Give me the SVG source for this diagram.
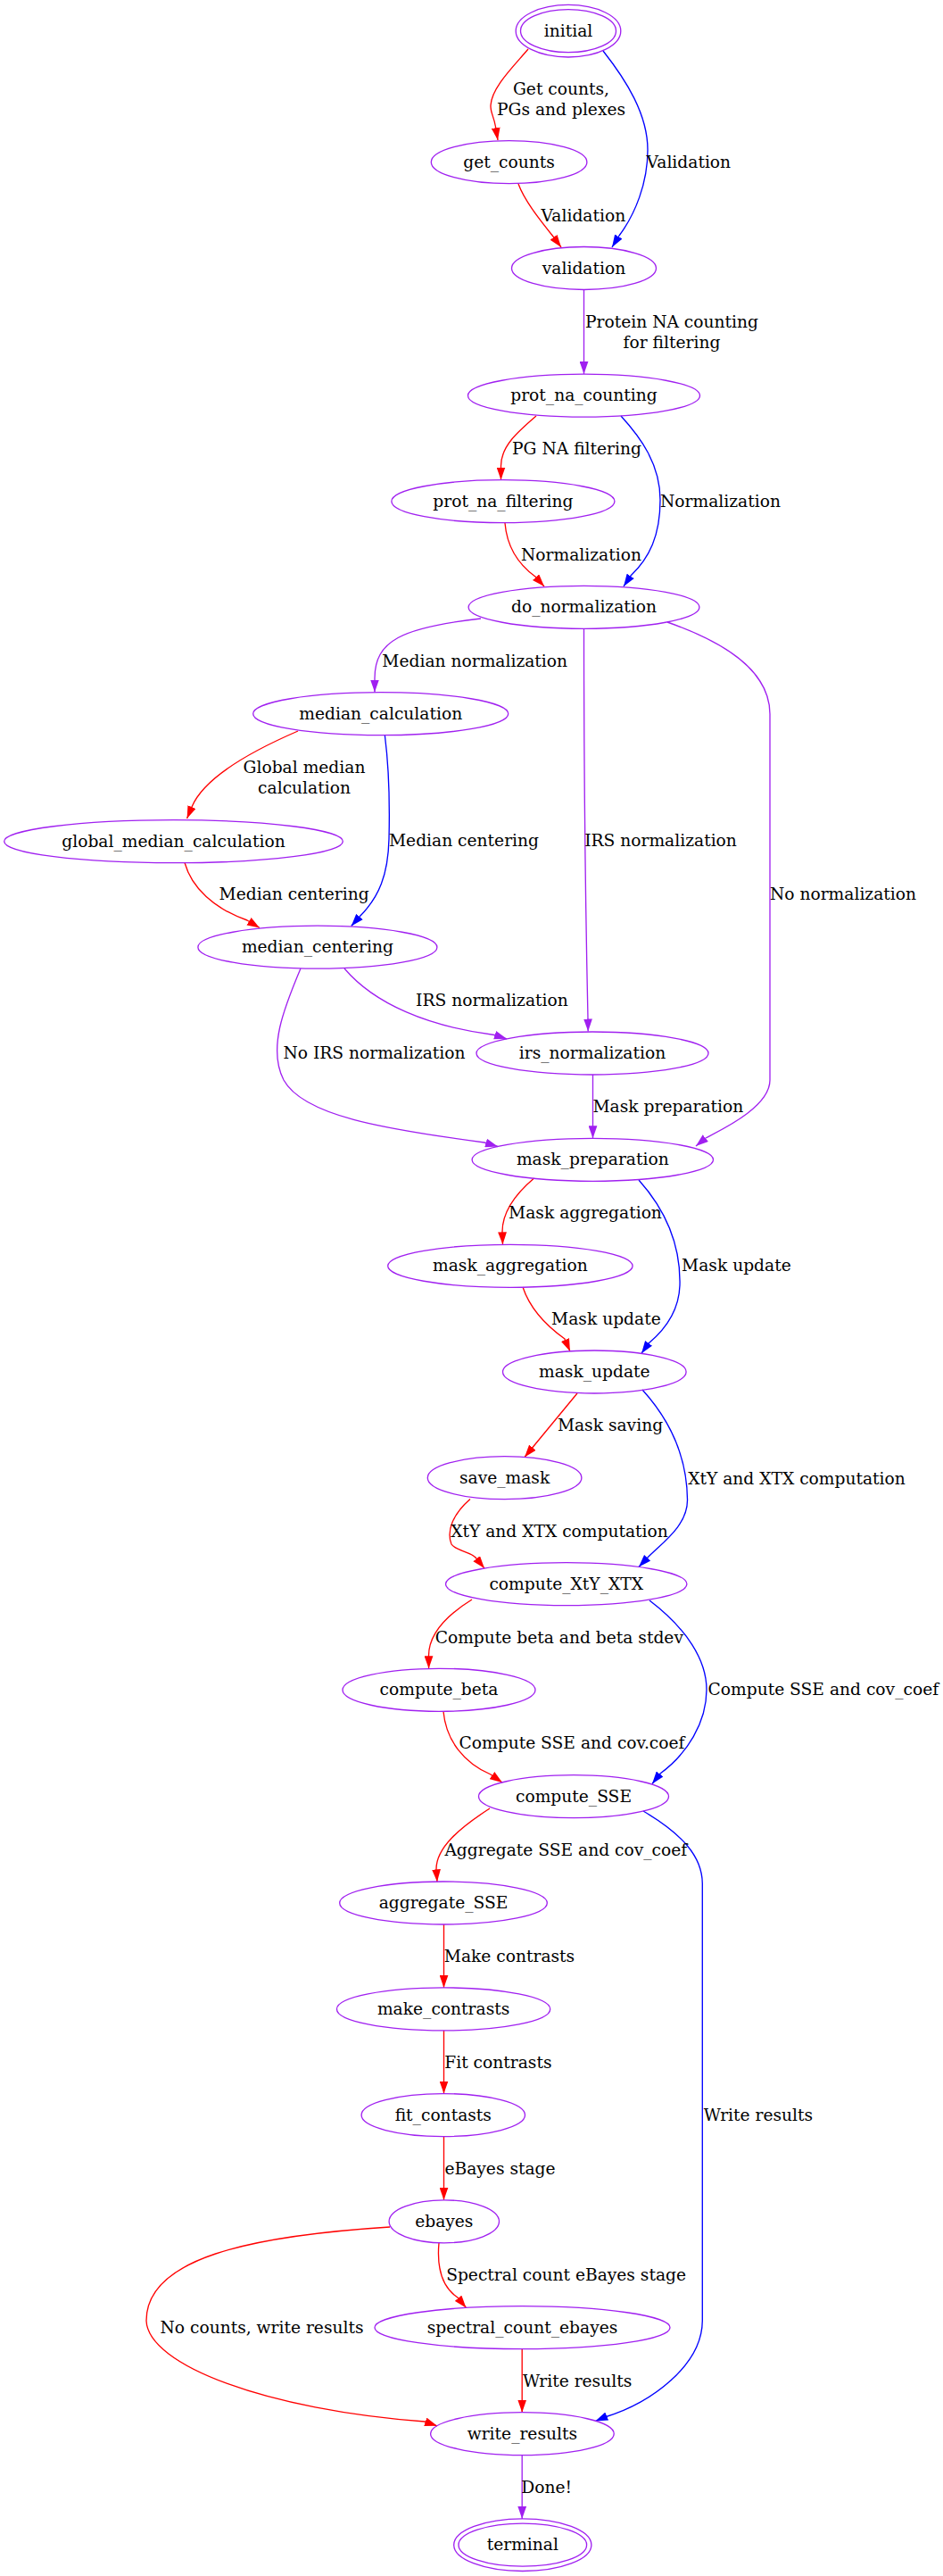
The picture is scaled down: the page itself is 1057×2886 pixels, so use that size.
<svg xmlns="http://www.w3.org/2000/svg" width="1057" height="2886" viewBox="0 0 1057 2886">
<style>
.n ellipse{fill:none;stroke:#a020f0;stroke-width:1.33}
text{font-family:"DejaVu Serif","Liberation Serif",serif;font-size:18.67px;fill:#000;text-anchor:middle}
.e path{fill:none;stroke-width:1.33}
.r{stroke:#ff0000;marker-end:url(#ar)}
.b{stroke:#0000ff;marker-end:url(#ab)}
.p{stroke:#a020f0;marker-end:url(#ap)}
</style>
<defs>
<marker id="ar" markerUnits="userSpaceOnUse" markerWidth="14" markerHeight="10" viewBox="0 0 13.33 9.33" refX="13.33" refY="4.67" orient="auto"><path d="M0,0 L13.33,4.67 L0,9.33 z" fill="#ff0000"/></marker>
<marker id="ab" markerUnits="userSpaceOnUse" markerWidth="14" markerHeight="10" viewBox="0 0 13.33 9.33" refX="13.33" refY="4.67" orient="auto"><path d="M0,0 L13.33,4.67 L0,9.33 z" fill="#0000ff"/></marker>
<marker id="ap" markerUnits="userSpaceOnUse" markerWidth="14" markerHeight="10" viewBox="0 0 13.33 9.33" refX="13.33" refY="4.67" orient="auto"><path d="M0,0 L13.33,4.67 L0,9.33 z" fill="#a020f0"/></marker>
</defs>
<rect width="1057" height="2886" fill="#fff"/>
<g id="edges" class="e">
<path class="r" d="M592,55 C576,74 551,98 550,118 C549.5,126 553.5,130 555.5,142 L558,157"/>
<path class="b" d="M676,57 C702,90 726,128 726,168 C726,205 712,240 694,264 L686,277"/>
<path class="r" d="M581,206 C588,225 605,246 620,265 L629,277"/>
<path class="p" d="M654.5,324.5 L654.5,419"/>
<path class="r" d="M601,466 C580,484 561.5,500 561.5,522 L561.5,537.5"/>
<path class="b" d="M696,466 C718,490 740,520 740,560 C740,600 728,625 707,645 L699,657"/>
<path class="r" d="M566,586 C568,610 578,630 600,646 L610,657"/>
<path class="p" d="M539,693 C450,703 420,718 420,760 L420,775.5"/>
<path class="p" d="M654.5,704.3 C654.5,900 657,1050 659,1141 L659.2,1155.5"/>
<path class="p" d="M748,697 C805,717 863,748 863,800 L863,1210 C863,1240 810,1265 791,1275 L780,1284"/>
<path class="r" d="M334,819 C290,838 230,868 215,904 L209.6,917"/>
<path class="b" d="M431.4,824 C436,860 437,900 436,940 C435,980 425,1005 403,1027 L393.7,1037.5"/>
<path class="r" d="M207,966.5 C215,995 240,1018 277,1031 L291,1039.5"/>
<path class="p" d="M386,1085 C420,1125 480,1150 554,1159.5 L568,1163.8"/>
<path class="p" d="M337,1085 C318,1130 300,1175 318,1210 C340,1250 430,1265 543,1280 L558,1284.5"/>
<path class="p" d="M664.5,1204 L664.5,1275.3"/>
<path class="r" d="M598.6,1320 C575,1340 563,1360 563,1380 L563.5,1394.3"/>
<path class="b" d="M716,1322 C750,1360 763,1400 762,1440 C761,1470 745,1490 727,1505 L719,1516.3"/>
<path class="r" d="M586,1442 C594,1466 612,1485 633,1500 L639,1513.9"/>
<path class="r" d="M647,1561 L588,1632.5"/>
<path class="b" d="M720,1557 C750,1590 770,1630 770.5,1680 C771,1710 740,1730 725,1746 L716,1755.5"/>
<path class="r" d="M527,1679.5 C508,1696 500,1715 506,1730 C511,1738 528,1738 534,1746 L543,1757.1"/>
<path class="r" d="M529,1792 C500,1810 480.5,1830 480.5,1855 L480.6,1869.3"/>
<path class="b" d="M728,1793 C770,1825 792,1860 792,1893 C792,1930 770,1965 740,1987 L731,1998.5"/>
<path class="r" d="M497,1917.5 C500,1950 520,1975 550,1988 L563,1997"/>
<path class="r" d="M549,2026 C515,2048 489,2070 489,2094 L490,2108.3"/>
<path class="b" d="M721,2029 C765,2055 787,2080 787.3,2110 L787.3,2600 C787,2650 730,2692 678,2708 L667.3,2712.5"/>
<path class="r" d="M497.5,2156 L497.5,2226.9"/>
<path class="r" d="M497.5,2274.9 L497.5,2345.6"/>
<path class="r" d="M497.5,2393.6 L497.5,2464.8"/>
<path class="r" d="M492,2512.7 C490,2535 492,2560 513,2574 L522.5,2585.5"/>
<path class="r" d="M437,2495 C280,2505 164,2530 164,2600 C166,2650 300,2700 476,2713 L490,2717.8"/>
<path class="r" d="M585.2,2631.7 L585.2,2702.7"/>
<path class="p" d="M585.2,2750.7 L585.2,2821.9"/>
</g>
<g id="edge-labels">
<text x="629" y="106">Get counts,</text>
<text x="629" y="129.3">PGs and plexes</text>
<text x="771.8" y="188.3">Validation</text>
<text x="653.9" y="248">Validation</text>
<text x="753" y="366.7">Protein NA counting</text>
<text x="753" y="390.3">for filtering</text>
<text x="646.5" y="509.3">PG NA filtering</text>
<text x="807.5" y="567.7">Normalization</text>
<text x="651.5" y="628.3">Normalization</text>
<text x="532.2" y="747">Median normalization</text>
<text x="341" y="866">Global median</text>
<text x="341" y="889.3">calculation</text>
<text x="520" y="948.3">Median centering</text>
<text x="740.5" y="948.3">IRS normalization</text>
<text x="329.6" y="1007.7">Median centering</text>
<text x="945" y="1008.3">No normalization</text>
<text x="551.4" y="1127.3">IRS normalization</text>
<text x="419.5" y="1186">No IRS normalization</text>
<text x="748.9" y="1246">Mask preparation</text>
<text x="656" y="1365">Mask aggregation</text>
<text x="825.4" y="1424.3">Mask update</text>
<text x="679.4" y="1483.7">Mask update</text>
<text x="684" y="1602.7">Mask saving</text>
<text x="893" y="1662.7">XtY and XTX computation</text>
<text x="627" y="1721.7">XtY and XTX computation</text>
<text x="626.8" y="1841">Compute beta and beta stdev</text>
<text x="922.8" y="1899.3">Compute SSE and cov_coef</text>
<text x="641" y="1959.3">Compute SSE and cov.coef</text>
<text x="634.3" y="2079.3">Aggregate SSE and cov_coef</text>
<text x="571" y="2197.7">Make contrasts</text>
<text x="558.4" y="2316.7">Fit contrasts</text>
<text x="850" y="2376">Write results</text>
<text x="560.5" y="2436">eBayes stage</text>
<text x="634.6" y="2555">Spectral count eBayes stage</text>
<text x="293.5" y="2614.3">No counts, write results</text>
<text x="647.1" y="2673.7">Write results</text>
<text x="612.7" y="2792.7">Done!</text>
</g>
<g id="initial" class="n"><ellipse cx="637" cy="34.7" rx="58.8" ry="29.3"/><ellipse cx="637" cy="34.7" rx="53.5" ry="24"/><text x="637" y="40.7">initial</text></g>
<g id="get_counts" class="n"><ellipse cx="570.6" cy="181.7" rx="87.3" ry="24"/><text x="570.6" y="187.7">get_counts</text></g>
<g id="validation" class="n"><ellipse cx="654.5" cy="300.5" rx="81" ry="24"/><text x="654.5" y="306.5">validation</text></g>
<g id="prot_na_counting" class="n"><ellipse cx="654.5" cy="443.2" rx="130" ry="24"/><text x="654.5" y="449.2">prot_na_counting</text></g>
<g id="prot_na_filtering" class="n"><ellipse cx="563.9" cy="561.7" rx="125" ry="24"/><text x="563.9" y="567.7">prot_na_filtering</text></g>
<g id="do_normalization" class="n"><ellipse cx="654.5" cy="680.3" rx="129.4" ry="24"/><text x="654.5" y="686.3">do_normalization</text></g>
<g id="median_calculation" class="n"><ellipse cx="426.7" cy="799.7" rx="143" ry="24"/><text x="426.7" y="805.7">median_calculation</text></g>
<g id="global_median_calculation" class="n"><ellipse cx="194.5" cy="942.7" rx="189.8" ry="24"/><text x="194.5" y="948.7">global_median_calculation</text></g>
<g id="median_centering" class="n"><ellipse cx="355.9" cy="1061.2" rx="134" ry="24"/><text x="355.9" y="1067.2">median_centering</text></g>
<g id="irs_normalization" class="n"><ellipse cx="664" cy="1180" rx="130" ry="24"/><text x="664" y="1186">irs_normalization</text></g>
<g id="mask_preparation" class="n"><ellipse cx="664.3" cy="1299.3" rx="135.2" ry="24"/><text x="664.3" y="1305.3">mask_preparation</text></g>
<g id="mask_aggregation" class="n"><ellipse cx="571.9" cy="1418.3" rx="137.2" ry="24"/><text x="571.9" y="1424.3">mask_aggregation</text></g>
<g id="mask_update" class="n"><ellipse cx="666.3" cy="1537" rx="102.8" ry="24"/><text x="666.3" y="1543">mask_update</text></g>
<g id="save_mask" class="n"><ellipse cx="565.6" cy="1655.7" rx="86.3" ry="24"/><text x="565.6" y="1661.7">save_mask</text></g>
<g id="compute_XtY_XTX" class="n"><ellipse cx="634.7" cy="1774.7" rx="135.2" ry="24"/><text x="634.7" y="1780.7">compute_XtY_XTX</text></g>
<g id="compute_beta" class="n"><ellipse cx="492" cy="1893.3" rx="108" ry="24"/><text x="492" y="1899.3">compute_beta</text></g>
<g id="compute_SSE" class="n"><ellipse cx="643" cy="2012.7" rx="106.5" ry="24"/><text x="643" y="2018.7">compute_SSE</text></g>
<g id="aggregate_SSE" class="n"><ellipse cx="497" cy="2132" rx="116.3" ry="24"/><text x="497" y="2138">aggregate_SSE</text></g>
<g id="make_contrasts" class="n"><ellipse cx="497.1" cy="2250.9" rx="119.6" ry="24"/><text x="497.1" y="2256.9">make_contrasts</text></g>
<g id="fit_contasts" class="n"><ellipse cx="496.8" cy="2369.6" rx="91.7" ry="24"/><text x="496.8" y="2375.6">fit_contasts</text></g>
<g id="ebayes" class="n"><ellipse cx="497.8" cy="2488.8" rx="61.7" ry="24"/><text x="497.8" y="2494.8">ebayes</text></g>
<g id="spectral_count_ebayes" class="n"><ellipse cx="585.5" cy="2607.7" rx="165.5" ry="24"/><text x="585.5" y="2613.7">spectral_count_ebayes</text></g>
<g id="write_results" class="n"><ellipse cx="585.4" cy="2726.7" rx="102.8" ry="24"/><text x="585.4" y="2732.7">write_results</text></g>
<g id="terminal" class="n"><ellipse cx="585.8" cy="2851.2" rx="77.1" ry="29.3"/><ellipse cx="585.8" cy="2851.2" rx="71.8" ry="24"/><text x="585.8" y="2857.2">terminal</text></g>
</svg>
